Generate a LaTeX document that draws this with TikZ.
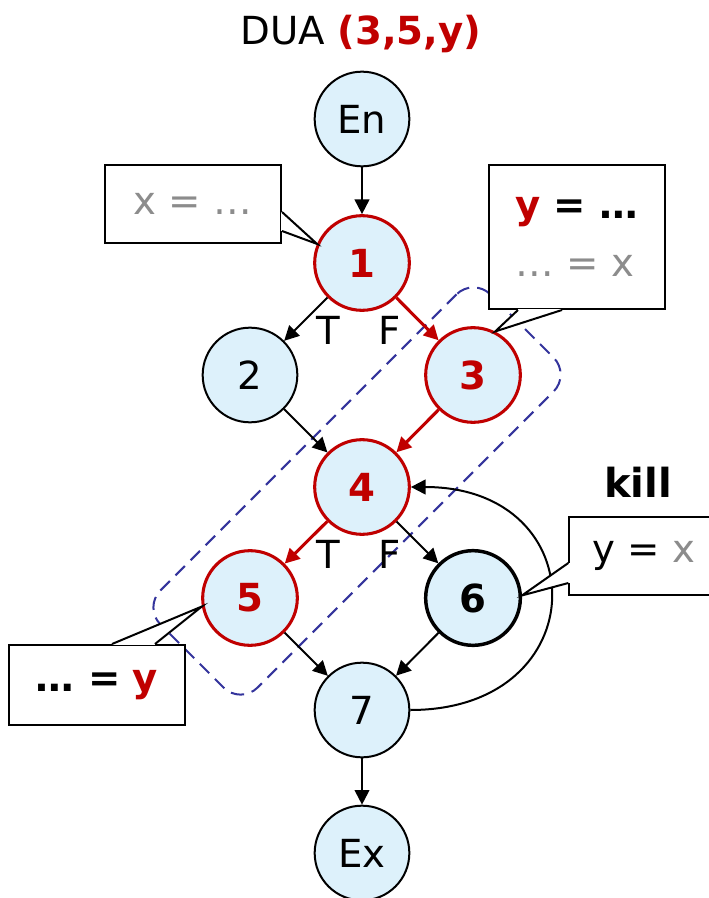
\documentclass[tikz,border=0pt]{standalone}
\usepackage{fontspec}
\setmainfont{DejaVu Sans}
\usetikzlibrary{arrows.meta,calc}
\definecolor{DuaRed}{HTML}{C00000}
\definecolor{NodeBlue}{HTML}{DDF1FB}
\definecolor{PathBlue}{HTML}{34349C}
\definecolor{NoteGrey}{HTML}{8C8C8C}

\begin{document}
\begin{tikzpicture}[x=0.75pt,y=-0.75pt,font=\fontsize{29}{36}\selectfont,
  cfg/.style={circle,draw,line width=1.5pt,fill=NodeBlue,minimum size=71pt,inner sep=0pt},
  du/.style={cfg,draw=DuaRed,line width=2.3pt,text=DuaRed,font=\fontsize{29}{36}\selectfont\bfseries},
  note/.style={draw,line width=1.5pt,fill=white,inner sep=0pt},
  arrow/.style={-{Triangle[length=11pt,width=11pt]},line width=1.5pt},
  duarrow/.style={arrow,draw=DuaRed,line width=2.3pt}]
  \useasboundingbox (0,0) rectangle (709,898);
  % def-use path 3 -> 4 -> 5
  \node[draw=PathBlue,dash pattern=on 10pt off 6pt,line width=1.5pt,rounded corners=18pt,rotate=45,minimum width=350pt,minimum height=103pt] (path) at (357,491) {};
  \node[anchor=base] (title) at (361,45) {DUA \textcolor{DuaRed}{\bfseries (3,5,y)}};
  \node[cfg] (en) at (362,119) {En};
  \node[du] (n1) at (362,263) {1};
  \node[cfg] (n2) at (250,375) {2};
  \node[du] (n3) at (473,375) {3};
  \node[du] (n4) at (362,487) {4};
  \node[du] (n5) at (250,598) {5};
  \node[cfg,line width=2.6pt,font=\fontsize{29}{36}\selectfont\bfseries] (n6) at (473,598) {6};
  \node[cfg] (n7) at (362,710) {7};
  \node[cfg] (ex) at (362,853) {Ex};
  \node[anchor=base] (t1) at (328,344) {T};
  \node[anchor=base] (f1) at (390,344) {F};
  \node[anchor=base] (t4) at (328,568) {T};
  \node[anchor=base] (f4) at (390,568) {F};
  \node[anchor=base,font=\fontsize{30}{36}\selectfont\bfseries] (kill) at (638,497) {kill};
  \draw[arrow] (en)--(n1);
  \draw[arrow] (n1)--(n2);
  \draw[duarrow] (n1)--(n3);
  \draw[arrow] (n2)--(n4);
  \draw[duarrow] (n3)--(n4);
  \draw[duarrow] (n4)--(n5);
  \draw[arrow] (n4)--(n6);
  \draw[arrow] (n5)--(n7);
  \draw[arrow] (n6)--(n7);
  \draw[arrow] (n7)--(ex);
  \draw[arrow] (n7) .. controls (597,710) and (597,487) .. (n4);
  % notes
  \node[note,minimum width=132pt,minimum height=59pt] (defx) at (193,204) {\textcolor{NoteGrey}{x = …}};
  \node[note,minimum width=132pt,minimum height=108pt,align=left,font=\fontsize{29}{43}\selectfont] (defy) at (577,237) {\textcolor{DuaRed}{\bfseries y} \textbf{= …}\\\textcolor{NoteGrey}{… = x}};
  \node[note,minimum width=132pt,minimum height=60pt] (usey) at (97,685) {\textbf{… =} \textcolor{DuaRed}{\bfseries y}};
  \node[note,minimum width=112pt,minimum height=59pt] (killy) at (644,556) {y = \textcolor{NoteGrey}{x}};
  \coordinate (a1) at ($(defx.east)+(0,8)$);
  \coordinate (b1) at ($(defx.east)+(0,27)$);
  \coordinate (a3) at ($(defy.south)+(-59,0)$);
  \coordinate (b3) at ($(defy.south)+(-15,0)$);
  \coordinate (a5) at ($(usey.north)+(15,0)$);
  \coordinate (b5) at ($(usey.north)+(58,0)$);
  \coordinate (a6) at ($(killy.west)+(0,7)$);
  \coordinate (b6) at ($(killy.west)+(0,27)$);
  \draw[white,line width=2pt] (a1)--(b1) (a3)--(b3) (a5)--(b5) (a6)--(b6);
  \draw[line width=1.5pt,fill=white] (a1)--(n1.157)--(b1);
  \draw[line width=1.5pt,fill=white] (a3)--(n3.63)--(b3);
  \draw[line width=1.5pt,fill=white] (a5)--(n5.190)--(b5);
  \draw[line width=1.5pt,fill=white] (a6)--(n6.3)--(b6);
\end{tikzpicture}
\end{document}
